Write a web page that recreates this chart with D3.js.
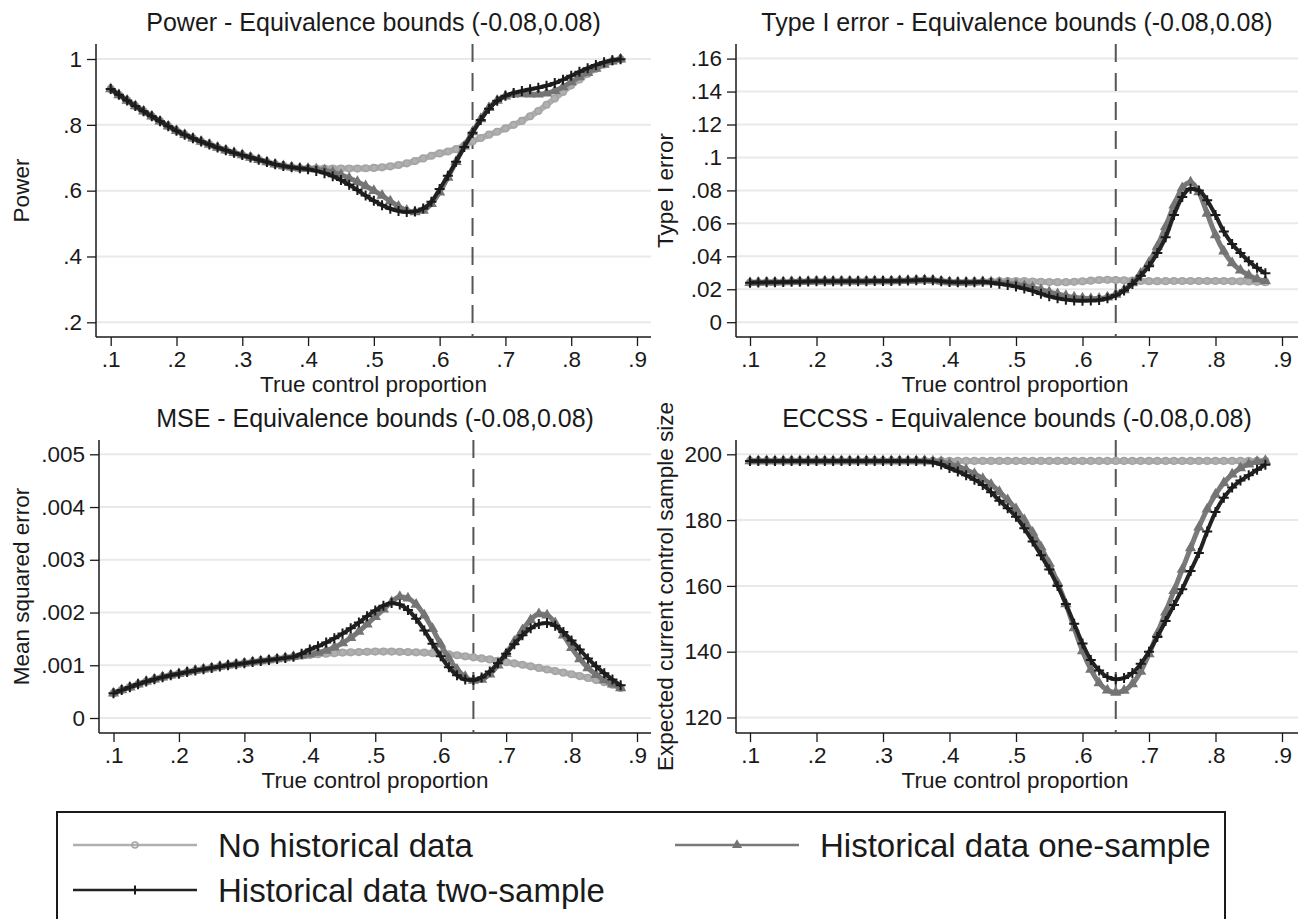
<!DOCTYPE html>
<html><head><meta charset="utf-8">
<script src="https://cdn.jsdelivr.net/npm/d3@7"></script>
<style>
html,body{margin:0;padding:0;background:#fff;}
svg{display:block;font-family:"Liberation Sans",Arial,Helvetica,sans-serif;}
</style></head>
<body><svg id="c" width="1298" height="919"></svg>
<script>
// ---------- data ----------
const xVals = [0.1,0.1125,0.125,0.1375,0.15,0.1625,0.175,0.1875,0.2,0.2125,0.225,0.2375,0.25,0.2625,0.275,0.2875,0.3,0.3125,0.325,0.3375,0.35,0.3625,0.375,0.3875,
0.4,0.4125,0.425,0.4375,0.45,0.4625,0.475,0.4875,0.5,0.5125,0.525,0.5375,0.55,0.5625,0.575,0.5875,0.6,0.6125,0.625,0.6375,0.65,0.6625,0.675,0.6875,0.7,0.7125,0.725,0.7375,0.75,0.7625,0.775,0.7875,0.8,0.8125,0.825,0.8375,0.85,0.8625,0.875];

const seriesNames = ["No historical data","Historical data one-sample","Historical data two-sample"];

const powerNone = [.909,.891,.874,.857,.841,.826,.811,.796,.782,.770,.759,.749,.740,.731,.723,.715,.708,.701,.694,.687,.680,.675,.671,.668,
.667,.667,.667,.667,.667,.667,.667,.668,.669,.671,.674,.678,.683,.690,.698,.706,.713,.719,.726,.737,.750,.760,.770,.779,.789,.800,.812,.826,.842,.861,.880,.900,.920,.938,.955,.970,.983,.993,.999];
const powerOne = [.909,.891,.874,.857,.841,.826,.811,.796,.782,.770,.759,.749,.740,.731,.723,.715,.708,.701,.694,.687,.680,.675,.671,.668,
.667,.665,.662,.656,.648,.638,.627,.614,.600,.585,.568,.552,.540,.535,.540,.560,.595,.640,.688,.735,.778,.818,.852,.874,.887,.893,.894,.893,.893,.896,.903,.915,.930,.945,.958,.971,.983,.993,.999];
const powerTwo = [.909,.891,.874,.857,.841,.826,.811,.796,.782,.770,.759,.749,.740,.731,.723,.715,.708,.701,.694,.687,.680,.675,.671,.668,
.665,.660,.653,.644,.632,.618,.602,.585,.569,.556,.545,.538,.535,.537,.546,.566,.605,.645,.688,.733,.776,.815,.849,.873,.888,.897,.903,.908,.913,.919,.927,.937,.949,.961,.972,.982,.990,.996,.999];

const typeNone = [.0240,.0241,.0242,.0243,.0244,.0245,.0246,.0247,.0248,.0249,.0249,.0249,.0249,.0249,.0249,.0250,.0250,.0250,.0251,.0253,.0255,.0256,.0254,.0249,.0244,.0242,.0242,.0243,.0245,
.0247,.0249,.0250,.0250,.0249,.0247,.0245,.0244,.0243,.0243,.0245,.0248,.0252,.0256,.0257,.0256,.0254,.0252,.0250,.0249,.0249,.0249,.0250,.0250,.0250,.0250,.0250,.0250,.0250,.0249,.0248,.0247,.0245,.0243];
const typeOne = [.0240,.0241,.0242,.0243,.0244,.0245,.0246,.0247,.0248,.0249,.0249,.0249,.0249,.0249,.0249,.0250,.0250,.0250,.0251,.0253,.0255,.0256,.0254,.0249,.0244,.0242,.0242,.0243,.0245,
.0244,.0241,.0236,.0230,.0221,.0210,.0197,.0184,.0171,.0160,.0151,.0146,.0143,.0144,.0152,.0168,.0196,.0238,.0295,.0362,.0460,.0580,.0710,.0815,.0850,.0790,.0660,.0530,.0430,.0360,.0315,.0285,.0262,.0250];
const typeTwo = [.0240,.0241,.0242,.0243,.0244,.0245,.0246,.0247,.0248,.0249,.0249,.0249,.0249,.0249,.0249,.0250,.0250,.0250,.0251,.0253,.0255,.0256,.0254,.0249,.0244,.0242,.0242,.0243,.0245,
.0240,.0234,.0226,.0216,.0204,.0190,.0173,.0157,.0145,.0137,.0132,.0130,.0131,.0135,.0145,.0163,.0192,.0232,.0282,.0340,.0420,.0515,.0650,.0760,.0810,.0800,.0740,.0650,.0550,.0475,.0420,.0370,.0330,.0297];

const mseNone = [.00047,.00053,.000585,.00064,.00069,.000735,.000775,.00081,.00084,.00087,.00090,.000925,.00095,.000975,.00100,.00102,.00104,.00106,.00108,.00110,.00112,.00114,.00116,.00118,
.001195,.00121,.00122,.00123,.00124,.001245,.00125,.001255,.00126,.00126,.00126,.001255,.00125,.001245,.00124,.00123,.00122,.001205,.00119,.00117,.00115,.00113,.00111,.001085,.00106,.001035,.00101,.00098,.00095,.00092,.00089,.00086,.00083,.000795,.00076,.00072,.00068,.00063,.00057];
const mseOne = [.00047,.00053,.000585,.00064,.00069,.000735,.000775,.00081,.00084,.00087,.00090,.000925,.00095,.000975,.00100,.00102,.00104,.00106,.00108,.00110,.00112,.00114,.00116,
.001185,.00121,.00124,.00128,.00134,.00142,.00152,.00164,.00178,.00192,.00206,.00220,.00230,.00227,.00215,.00195,.00169,.00140,.00113,.00092,.00078,.00071,.00073,.00083,.00100,.00122,.00145,.00167,.00186,.00197,.00195,.00180,.00157,.00133,.00112,.00095,.00082,.00072,.00064,.00057];
const mseTwo = [.00047,.00053,.000585,.00064,.00069,.000735,.000775,.00081,.00084,.00087,.00090,.000925,.00095,.000975,.00100,.00102,.00104,.00106,.00108,.00110,.00112,.00114,.00116,
.00122,.00130,.00136,.00143,.00151,.00160,.00170,.00181,.00193,.00204,.00213,.00218,.00215,.00205,.00188,.00166,.00141,.00117,.00096,.00081,.00073,.00072,.00077,.00088,.00104,.00122,.00140,.00157,.00170,.00178,.00180,.00175,.00163,.00147,.00130,.00113,.00098,.00085,.00073,.00062];

const eccssNone = [198,198,198,198,198,198,198,198,198,198,198,198,198,198,198,198,198,198,198,198,198,198,198,198,198,198,198,198,198,198,198,198,198,198,198,198,198,198,198,198,198,198,198,198,198,198,198,198,198,198,198,198,198,198,198,198,198,198,198,198,198,198,198];
const eccssOne = [198,198,198,198,198,198,198,198,198,198,198,198,198,198,198,198,198,198,198,198,198,
198.0,197.9,197.7,197.1,196.3,195.3,194.1,192.6,190.8,188.6,186.1,183.4,180.0,176.2,171.8,166.8,161.0,154.5,147.2,140.2,134.6,130.5,128.3,127.6,128.2,130.2,134.0,139.3,145.5,152.0,158.5,165.0,171.5,177.8,183.3,187.8,191.3,193.9,195.8,197.0,197.7,198.0];
const eccssTwo = [198,198,198,198,198,198,198,198,198,198,198,198,198,198,198,198,198,198,198,198,198,
197.9,197.6,196.9,195.8,194.8,193.6,192.3,190.7,188.5,185.9,183.6,181.0,177.5,173.5,169.3,165.0,160.0,154.5,148.5,142.5,137.5,134.3,132.3,131.6,132.0,133.5,136.3,140.0,144.5,149.3,154.2,159.0,164.5,170.0,176.5,182.5,186.8,189.9,192.0,193.6,195.3,196.8];

const xTicks = [.1,.2,.3,.4,.5,.6,.7,.8,.9];
const xTickLabels = [".1",".2",".3",".4",".5",".6",".7",".8",".9"];
const powerTicks = [.2,.4,.6,.8,1];
const powerTickLabels = [".2",".4",".6",".8","1"];
const typeTicks = [0,.02,.04,.06,.08,.1,.12,.14,.16];
const typeTickLabels = ["0",".02",".04",".06",".08",".1",".12",".14",".16"];
const mseTicks = [0,.001,.002,.003,.004,.005];
const mseTickLabels = ["0",".001",".002",".003",".004",".005"];
const eccssTicks = [120,140,160,180,200];
const eccssTickLabels = ["120","140","160","180","200"];
const refLine = 0.65;
const panelTitles = ["Power - Equivalence bounds (-0.08,0.08)","Type I error - Equivalence bounds (-0.08,0.08)","MSE - Equivalence bounds (-0.08,0.08)","ECCSS - Equivalence bounds (-0.08,0.08)"];
const yTitles = ["Power","Type I error","Mean squared error","Expected current control sample size"];
const xTitle = "True control proportion";

// ---------- drawing ----------
const svg = d3.select("#c");
const INK = "#1a1a1a";
const styles = [
  {line:"#b0b0b0", lw:6, marker:"circle", mc:"#a4a4a4", legLw:2.5},
  {line:"#7a7a7a", lw:5, marker:"triangle", mc:"#747474", legLw:2.5},
  {line:"#222", lw:4, marker:"plus", mc:"#1a1a1a", legLw:2.5}
];

function drawMarker(g, type, color, x, y, scale){
  scale = scale || 1;
  if(type==="circle"){
    g.append("circle").attr("cx",x).attr("cy",y).attr("r",3.3*scale).attr("fill","none").attr("stroke",color).attr("stroke-width",1.6);
  } else if(type==="triangle"){
    g.append("path").attr("transform",`translate(${x},${y})`).attr("d",d3.symbol(d3.symbolTriangle,55*scale*scale)()).attr("fill",color);
  } else {
    const s=5*scale;
    g.append("path").attr("d",`M${x-s},${y}H${x+s}M${x},${y-s}V${y+s}`).attr("stroke",color).attr("stroke-width",2).attr("fill","none");
  }
}

const panels = [
  {series:[powerNone,powerOne,powerTwo], ticks:powerTicks, labels:powerTickLabels, yd:[.2,1], yr:[322.3,59],
   L:96, R:651, T:44, B:337, xr:[110.7,637]},
  {series:[typeNone,typeOne,typeTwo], ticks:typeTicks, labels:typeTickLabels, yd:[0,.16], yr:[322.2,58.6],
   L:736, R:1298, T:44, B:337, xr:[750,1282]},
  {series:[mseNone,mseOne,mseTwo], ticks:mseTicks, labels:mseTickLabels, yd:[0,.005], yr:[718,454.3],
   L:99, R:651, T:440, B:733, xr:[113.5,637]},
  {series:[eccssNone,eccssOne,eccssTwo], ticks:eccssTicks, labels:eccssTickLabels, yd:[120,200], yr:[717.5,454.3],
   L:736, R:1298, T:440, B:733, xr:[750,1282]}
];

panels.forEach((p,i)=>{
  const g = svg.append("g");
  const x = d3.scaleLinear().domain([.1,.9]).range(p.xr);
  const y = d3.scaleLinear().domain(p.yd).range(p.yr);
  g.selectAll(".grid").data(p.ticks).join("line")
    .attr("x1",p.L).attr("x2",p.R).attr("y1",d=>y(d)).attr("y2",d=>y(d))
    .attr("stroke","#e9e9e9").attr("stroke-width",2);
  const ya = g.append("g").attr("transform",`translate(${p.L},0)`)
    .call(d3.axisLeft(y).tickValues(p.ticks).tickFormat((d,j)=>p.labels[j]).tickSize(9).tickPadding(5));
  ya.select(".domain").attr("d",`M0,${p.T}V${p.B}`).attr("stroke",INK).attr("stroke-width",1.5);
  ya.selectAll(".tick line").attr("stroke",INK).attr("stroke-width",1.3);
  ya.selectAll(".tick text").attr("font-size",22.5).attr("fill",INK).attr("font-family","Liberation Sans, Arial, sans-serif");
  const xa = g.append("g").attr("transform",`translate(0,${p.B})`)
    .call(d3.axisBottom(x).tickValues(xTicks).tickFormat((d,j)=>xTickLabels[j]).tickSize(9).tickPadding(5));
  xa.select(".domain").attr("d",`M${p.L},0H${p.R}`).attr("stroke",INK).attr("stroke-width",1.5);
  xa.selectAll(".tick line").attr("stroke",INK).attr("stroke-width",1.3);
  xa.selectAll(".tick text").attr("font-size",22.5).attr("fill",INK).attr("font-family","Liberation Sans, Arial, sans-serif");
  g.append("line").attr("x1",x(refLine)).attr("x2",x(refLine)).attr("y1",p.T).attr("y2",p.B)
    .attr("stroke","#555").attr("stroke-width",2).attr("stroke-dasharray","18,11");
  const line = d3.line().x((d,j)=>x(xVals[j])).y(d=>y(d)).curve(d3.curveMonotoneX);
  p.series.forEach((vals,k)=>{
    const st = styles[k];
    const sg = g.append("g");
    sg.append("path").datum(vals).attr("d",line).attr("fill","none").attr("stroke",st.line).attr("stroke-width",st.lw).attr("stroke-linejoin","round");
    vals.forEach((v,j)=>drawMarker(sg, st.marker, st.mc, x(xVals[j]), y(v)));
  });
  g.append("text").attr("x",(p.L+p.R)/2).attr("y",p.T-22).attr("text-anchor","middle").attr("dominant-baseline","central")
    .attr("font-size",25).attr("fill",INK).text(panelTitles[i]);
  g.append("text").attr("x",(p.L+p.R)/2 - (i%2===1?2:0)).attr("y",p.B+47).attr("text-anchor","middle").attr("dominant-baseline","central")
    .attr("font-size",22.5).attr("fill",INK).text(xTitle);
  const yx = i%2===0 ? 21 : 665;
  g.append("text").attr("transform",`translate(${yx},${(p.T+p.B)/2}) rotate(-90)`).attr("text-anchor","middle").attr("dominant-baseline","central")
    .attr("font-size",22.5).attr("fill",INK).text(yTitles[i]);
});

// legend
const lg = svg.append("g");
lg.append("rect").attr("x",57).attr("y",812).attr("width",1168).attr("height",130).attr("fill","#fff").attr("stroke",INK).attr("stroke-width",2);
const legPos = [{x:73,y:845},{x:675,y:845},{x:73,y:890}];
seriesNames.forEach((name,k)=>{
  const st = styles[k], pos = legPos[k];
  lg.append("line").attr("x1",pos.x).attr("x2",pos.x+124).attr("y1",pos.y).attr("y2",pos.y).attr("stroke",st.line).attr("stroke-width",st.legLw);
  drawMarker(lg, st.marker, st.mc, pos.x+62, pos.y, 0.9);
  lg.append("text").attr("x",pos.x+145).attr("y",pos.y).attr("dominant-baseline","central").attr("font-size",33).attr("fill",INK).text(name);
});
</script></body></html>
